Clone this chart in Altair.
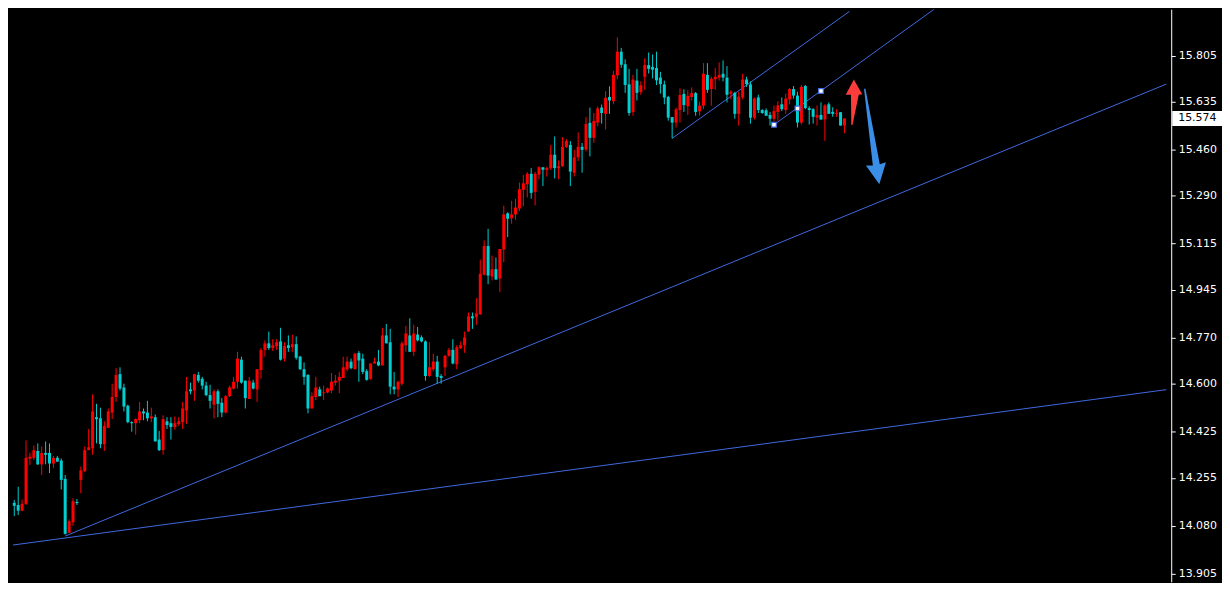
import altair as alt
import pandas as pd

opens = [
    14.164, 14.156, 14.135, 14.160, 14.326, 14.329, 14.354, 14.305, 14.347, 14.347,
    14.308, 14.329, 14.319, 14.252, 14.054, 14.093, 14.167, 14.248, 14.280, 14.357,
    14.364, 14.478, 14.474, 14.379, 14.439, 14.495, 14.552, 14.636, 14.587, 14.520,
    14.460, 14.456, 14.467, 14.499, 14.495, 14.474, 14.478, 14.396, 14.357, 14.463,
    14.456, 14.442, 14.453, 14.460, 14.502, 14.580, 14.576, 14.633, 14.619, 14.594,
    14.559, 14.524, 14.573, 14.531, 14.495, 14.555, 14.583, 14.608, 14.689, 14.612,
    14.545, 14.605, 14.580, 14.651, 14.725, 14.749, 14.732, 14.739, 14.756, 14.693,
    14.742, 14.735, 14.746, 14.700, 14.654, 14.633, 14.510, 14.552, 14.580, 14.566,
    14.569, 14.576, 14.605, 14.612, 14.622, 14.654, 14.682, 14.654, 14.714, 14.693,
    14.647, 14.619, 14.675, 14.682, 14.668, 14.778, 14.753, 14.590, 14.580, 14.601,
    14.742, 14.778, 14.718, 14.781, 14.771, 14.756, 14.629, 14.654, 14.682, 14.629,
    14.661, 14.703, 14.725, 14.672, 14.732, 14.742, 14.792, 14.848, 14.845, 14.855,
    15.001, 15.106, 14.994, 15.021, 14.987, 15.093, 15.226, 15.208, 15.222, 15.244,
    15.312, 15.333, 15.371, 15.305, 15.368, 15.395, 15.385, 15.392, 15.441, 15.392,
    15.399, 15.470, 15.477, 15.375, 15.432, 15.470, 15.460, 15.558, 15.503, 15.559,
    15.614, 15.591, 15.653, 15.637, 15.732, 15.819, 15.773, 15.699, 15.598, 15.713,
    15.671, 15.727, 15.770, 15.763, 15.759, 15.724, 15.699, 15.653, 15.579, 15.559,
    15.605, 15.664, 15.619, 15.653, 15.667, 15.600, 15.621, 15.734, 15.682, 15.718,
    15.724, 15.738, 15.724, 15.665, 15.668, 15.591, 15.651, 15.717, 15.699, 15.577,
    15.651, 15.605, 15.604, 15.587, 15.573, 15.598, 15.626, 15.605, 15.644, 15.682,
    15.658, 15.559, 15.693, 15.612, 15.608, 15.577, 15.587, 15.570, 15.626, 15.598,
    15.591, 15.597, 15.548,
]
highs = [
    14.174, 14.223, 14.176, 14.393, 14.348, 14.374, 14.382, 14.371, 14.389, 14.382,
    14.336, 14.336, 14.326, 14.266, 14.103, 14.181, 14.178, 14.297, 14.371, 14.435,
    14.562, 14.527, 14.513, 14.463, 14.510, 14.601, 14.658, 14.661, 14.601, 14.524,
    14.463, 14.474, 14.534, 14.510, 14.538, 14.513, 14.488, 14.428, 14.485, 14.478,
    14.478, 14.481, 14.478, 14.534, 14.626, 14.605, 14.636, 14.644, 14.626, 14.608,
    14.597, 14.580, 14.580, 14.548, 14.559, 14.594, 14.626, 14.718, 14.700, 14.612,
    14.626, 14.615, 14.654, 14.732, 14.760, 14.792, 14.764, 14.764, 14.806, 14.753,
    14.778, 14.781, 14.774, 14.703, 14.679, 14.636, 14.569, 14.626, 14.590, 14.594,
    14.587, 14.640, 14.633, 14.644, 14.700, 14.700, 14.693, 14.714, 14.721, 14.711,
    14.654, 14.675, 14.696, 14.725, 14.806, 14.820, 14.802, 14.644, 14.612, 14.756,
    14.813, 14.841, 14.817, 14.809, 14.778, 14.760, 14.753, 14.711, 14.703, 14.636,
    14.707, 14.732, 14.764, 14.742, 14.756, 14.792, 14.862, 14.862, 14.915, 15.056,
    15.127, 15.169, 15.071, 15.064, 15.095, 15.254, 15.230, 15.272, 15.279, 15.339,
    15.367, 15.378, 15.392, 15.378, 15.399, 15.395, 15.397, 15.477, 15.508, 15.420,
    15.505, 15.498, 15.491, 15.459, 15.523, 15.484, 15.579, 15.614, 15.594, 15.618,
    15.625, 15.674, 15.692, 15.749, 15.872, 15.833, 15.791, 15.756, 15.734, 15.756,
    15.710, 15.794, 15.816, 15.809, 15.819, 15.745, 15.713, 15.657, 15.579, 15.614,
    15.685, 15.681, 15.678, 15.688, 15.671, 15.636, 15.777, 15.777, 15.727, 15.759,
    15.780, 15.787, 15.766, 15.678, 15.672, 15.672, 15.738, 15.727, 15.710, 15.651,
    15.661, 15.608, 15.611, 15.598, 15.622, 15.637, 15.651, 15.665, 15.686, 15.693,
    15.672, 15.697, 15.697, 15.619, 15.612, 15.622, 15.633, 15.626, 15.633, 15.615,
    15.608, 15.597, 15.574,
]
lows = [
    14.115, 14.119, 14.133, 14.156, 14.303, 14.321, 14.303, 14.266, 14.305, 14.273,
    14.291, 14.315, 14.213, 14.047, 14.054, 14.079, 14.156, 14.199, 14.276, 14.357,
    14.340, 14.382, 14.364, 14.354, 14.439, 14.471, 14.534, 14.576, 14.499, 14.456,
    14.425, 14.414, 14.456, 14.467, 14.463, 14.460, 14.389, 14.354, 14.340, 14.435,
    14.396, 14.432, 14.446, 14.435, 14.453, 14.562, 14.538, 14.605, 14.580, 14.555,
    14.510, 14.474, 14.478, 14.478, 14.492, 14.552, 14.580, 14.583, 14.601, 14.510,
    14.545, 14.580, 14.534, 14.619, 14.700, 14.725, 14.721, 14.725, 14.686, 14.682,
    14.718, 14.718, 14.689, 14.651, 14.597, 14.492, 14.510, 14.541, 14.555, 14.541,
    14.566, 14.566, 14.594, 14.566, 14.622, 14.647, 14.654, 14.654, 14.608, 14.636,
    14.612, 14.615, 14.675, 14.665, 14.668, 14.749, 14.562, 14.562, 14.552, 14.594,
    14.718, 14.718, 14.703, 14.756, 14.753, 14.612, 14.626, 14.647, 14.601, 14.601,
    14.629, 14.700, 14.672, 14.654, 14.728, 14.714, 14.792, 14.802, 14.817, 14.855,
    14.998, 14.966, 14.980, 14.983, 14.937, 15.047, 15.139, 15.188, 15.202, 15.234,
    15.252, 15.284, 15.280, 15.255, 15.351, 15.326, 15.361, 15.385, 15.354, 15.351,
    15.397, 15.466, 15.326, 15.361, 15.418, 15.375, 15.453, 15.435, 15.485, 15.545,
    15.555, 15.534, 15.591, 15.626, 15.718, 15.760, 15.668, 15.584, 15.584, 15.640,
    15.661, 15.679, 15.739, 15.721, 15.697, 15.665, 15.626, 15.566, 15.501, 15.541,
    15.559, 15.598, 15.587, 15.640, 15.584, 15.584, 15.608, 15.668, 15.621, 15.679,
    15.713, 15.710, 15.633, 15.644, 15.573, 15.548, 15.644, 15.690, 15.555, 15.570,
    15.594, 15.591, 15.584, 15.548, 15.563, 15.566, 15.601, 15.591, 15.626, 15.647,
    15.541, 15.552, 15.608, 15.552, 15.555, 15.548, 15.570, 15.492, 15.591, 15.580,
    15.580, 15.548, 15.520,
]
closes = [
    14.153, 14.135, 14.160, 14.329, 14.333, 14.357, 14.305, 14.347, 14.340, 14.308,
    14.329, 14.315, 14.248, 14.050, 14.096, 14.170, 14.163, 14.283, 14.357, 14.368,
    14.499, 14.471, 14.379, 14.446, 14.499, 14.552, 14.633, 14.583, 14.517, 14.460,
    14.456, 14.471, 14.499, 14.492, 14.474, 14.481, 14.389, 14.357, 14.471, 14.449,
    14.442, 14.456, 14.463, 14.510, 14.573, 14.573, 14.636, 14.612, 14.594, 14.559,
    14.538, 14.573, 14.527, 14.495, 14.555, 14.587, 14.608, 14.693, 14.605, 14.548,
    14.612, 14.583, 14.654, 14.725, 14.749, 14.732, 14.742, 14.753, 14.689, 14.739,
    14.732, 14.746, 14.696, 14.654, 14.626, 14.510, 14.555, 14.587, 14.555, 14.569,
    14.583, 14.608, 14.612, 14.626, 14.661, 14.682, 14.658, 14.711, 14.686, 14.644,
    14.615, 14.675, 14.682, 14.668, 14.778, 14.749, 14.590, 14.580, 14.608, 14.749,
    14.785, 14.718, 14.785, 14.760, 14.756, 14.629, 14.661, 14.682, 14.626, 14.622,
    14.703, 14.725, 14.675, 14.735, 14.742, 14.771, 14.848, 14.841, 14.859, 15.004,
    15.106, 14.998, 15.021, 14.983, 15.095, 15.222, 15.206, 15.222, 15.247, 15.314,
    15.336, 15.371, 15.301, 15.371, 15.395, 15.386, 15.392, 15.441, 15.392, 15.399,
    15.470, 15.491, 15.379, 15.431, 15.470, 15.459, 15.554, 15.503, 15.565, 15.611,
    15.594, 15.650, 15.640, 15.734, 15.819, 15.771, 15.697, 15.594, 15.717, 15.668,
    15.696, 15.770, 15.756, 15.753, 15.714, 15.700, 15.651, 15.577, 15.559, 15.607,
    15.660, 15.623, 15.657, 15.667, 15.598, 15.621, 15.738, 15.679, 15.720, 15.727,
    15.734, 15.724, 15.661, 15.672, 15.591, 15.654, 15.717, 15.700, 15.577, 15.647,
    15.605, 15.594, 15.584, 15.573, 15.601, 15.622, 15.608, 15.647, 15.682, 15.658,
    15.559, 15.690, 15.612, 15.605, 15.580, 15.587, 15.570, 15.622, 15.591, 15.591,
    15.594, 15.548, 15.574,
]

tick_values = [15.805, 15.635, 15.460, 15.290, 15.115, 14.945,
               14.770, 14.600, 14.425, 14.255, 14.080, 13.905]
last_price = 15.574

trend_ids = ["a", "a", "b", "b", "c", "c", "d", "d"]
trend_bars = [-0.33, 294.17, 13, 294.17, 168, 213.3, 194, 234.9]
trend_prices = [14.009, 14.579, 14.042, 15.700, 15.501, 15.967, 15.551, 15.975]

handle_bars = [194, 200, 206]
handle_prices = [15.551, 15.611, 15.675]

arrow_bars = [214.4, 219.8]
arrow_prices = [15.632, 15.508]

# ---------------------------------------------------------------
W, H = 1168, 575
X_DOMAIN = [-0.33, 294.17]
Y_DOMAIN = [13.874, 15.975]
UP, DOWN = "#FF0000", "#00CED1"
LINE = "#4169E1"

df = pd.DataFrame({"bar": list(range(len(opens))), "open": opens,
                   "high": highs, "low": lows, "close": closes})
df["dir"] = ["up" if c >= o else "down" for o, c in zip(opens, closes)]

trend_df = pd.DataFrame({"id": trend_ids, "bar": trend_bars, "price": trend_prices})
handle_df = pd.DataFrame({"bar": handle_bars, "price": handle_prices})
up_df = pd.DataFrame({"bar": [arrow_bars[0]], "price": [arrow_prices[0]]})
down_df = pd.DataFrame({"bar": [arrow_bars[1]], "price": [arrow_prices[1]]})
last_df = pd.DataFrame({"price": [last_price], "label": [f"{last_price:.3f}"]})

xs = alt.Scale(domain=X_DOMAIN, nice=False, zero=False)
ys = alt.Scale(domain=Y_DOMAIN, nice=False, zero=False)
yaxis = alt.Axis(orient="right", values=tick_values, format=".3f", title=None,
                 grid=False, labelColor="#FFFFFF", tickColor="#FFFFFF",
                 domainColor="#FFFFFF", tickSize=4, labelPadding=3,
                 labelFont="DejaVu Sans", labelFontSize=11, labelFlush=False,
                 labelOverlap=False, domainWidth=1, tickWidth=1)

color = alt.Color("dir:N", scale=alt.Scale(domain=["up", "down"], range=[UP, DOWN]),
                  legend=None)

X = alt.X("bar:Q", scale=xs, axis=None)

trend = alt.Chart(trend_df).mark_line(color=LINE, strokeWidth=1, clip=True).encode(
    x=X, y=alt.Y("price:Q", scale=ys, axis=yaxis), detail="id:N")

wicks = alt.Chart(df).mark_rule(strokeWidth=1).encode(
    x=X, y=alt.Y("low:Q", scale=ys, axis=yaxis), y2="high:Q", color=color)

bodies = alt.Chart(df).mark_bar(size=3).encode(
    x=X, y=alt.Y("open:Q", scale=ys, axis=yaxis), y2="close:Q", color=color)

handles = alt.Chart(handle_df).mark_square(size=22, fill="#FFFFFF", stroke=LINE,
                                           strokeWidth=1.2, opacity=1).encode(
    x=X, y=alt.Y("price:Q", scale=ys, axis=yaxis))

up_path = ("M 0 -1 L 0.36 -0.36 L 0.21 -0.34 L -0.06 0.96 L -0.11 0.96 "
           "L -0.125 -0.34 L -0.35 -0.34 Z")
down_path = ("M -0.23 -1 L -0.2 -1 L 0.1 0.58 L 0.23 0.54 L 0.09 1 "
             "L -0.19 0.61 L -0.045 0.61 Z")

up_arrow = alt.Chart(up_df).mark_point(shape=up_path, size=2170, filled=True,
                                       color="#FF3C3C", opacity=1, strokeWidth=0).encode(
    x=X, y=alt.Y("price:Q", scale=ys, axis=yaxis))
down_arrow = alt.Chart(down_df).mark_point(shape=down_path, size=9200, filled=True,
                                           color="#3A8EE6", opacity=1, strokeWidth=0).encode(
    x=X, y=alt.Y("price:Q", scale=ys, axis=yaxis))

box_path = "M -1 -0.3 L 1 -0.3 L 1 0.3 L -1 0.3 Z"
last_box = alt.Chart(last_df).mark_point(shape=box_path, size=2500, filled=True,
                                         color="#FFFFFF", opacity=1, strokeWidth=0).encode(
    x=alt.value(W + 26), y=alt.Y("price:Q", scale=ys, axis=yaxis))
last_text = alt.Chart(last_df).mark_text(align="left", baseline="middle", color="#000000",
                                         font="DejaVu Sans", fontSize=11).encode(
    x=alt.value(W + 7), y=alt.Y("price:Q", scale=ys, axis=yaxis), text="label:N")

chart = alt.layer(trend, wicks, bodies, handles, up_arrow, down_arrow, last_box, last_text).properties(
    width=W, height=H, padding=0, background="#000000"
).configure_view(stroke=None)

chart.save("out.html", embed_options={"renderer": "svg", "actions": False})
